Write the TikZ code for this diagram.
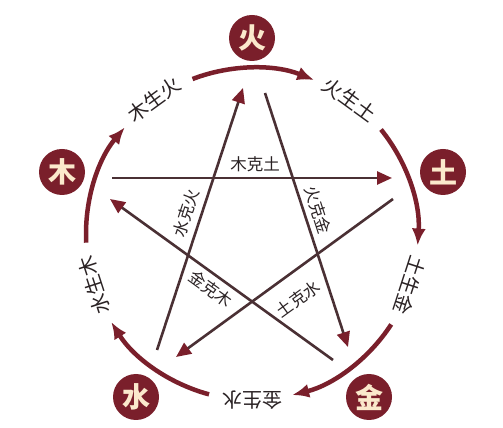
\documentclass[tikz,border=0pt]{standalone}
\usepackage{fontspec}
\newfontfamily\cjk{Noto Sans CJK SC}
\usetikzlibrary{arrows.meta}
\definecolor{wxred}{HTML}{7A1F2B}
\definecolor{wxcream}{HTML}{FBE9CC}
\definecolor{wxline}{HTML}{4A3034}
\definecolor{wxtext}{HTML}{2A2224}
\begin{document}
\begin{tikzpicture}[x=1pt,y=1pt,
  elem/.style={circle,fill=wxred,minimum size=46pt,inner sep=0pt,text=wxcream,font=\cjk\bfseries\fontsize{28}{28}\selectfont},
  shengarc/.style={draw=wxred,line width=4.5pt,-{Latex[length=17pt,width=14pt]}},
  kearrow/.style={draw=wxline,line width=2.6pt,-{Triangle[length=15pt,width=13pt,color=wxred]}},
  outlbl/.style={font=\cjk\fontsize{20}{20}\selectfont,text=wxtext,inner sep=0pt},
  inlbl/.style={font=\cjk\fontsize{16.5}{16.5}\selectfont,text=wxtext,inner sep=0pt}]
\useasboundingbox (0,0) rectangle (503,428);
\fill[white] (0,0) rectangle (503,428);
\coordinate (O) at (252,194);
% element circles
\node[elem] (huo) at (252,390) {火};
\node[elem] (mu) at (62,256) {木};
\node[elem] (tu) at (443,256) {土};
\node[elem] (shui) at (136,31) {水};
\node[elem] (jin) at (369,31) {金};
% generating arcs
\foreach \v in {90,162,18,-54,234}{
  \draw[shengarc] ([shift={(O)}]\v+21:166) arc[start angle=\v+21,end angle=\v-22,radius=166];
}
% outer labels
\node[outlbl,rotate=36] (l1) at ([shift={(O)}]126:166) {木生火};
\node[outlbl,rotate=-36] (l2) at ([shift={(O)}]54:166) {火生土};
\node[outlbl,rotate=-108] (l3) at ([shift={(O)}]-18:166) {土生金};
\node[outlbl,rotate=180] (l4) at ([shift={(O)}]-90:166) {金生水};
\node[outlbl,rotate=108] (l5) at ([shift={(O)}]198:166) {水生木};
% controlling star
\coordinate (a1) at (112,250); \coordinate (b1) at (392,250);
\coordinate (a2) at (393,229); \coordinate (b2) at (176,71);
\coordinate (a3) at (157,78);  \coordinate (b3) at (243,340);
\coordinate (a4) at (265,335); \coordinate (b4) at (348,81);
\coordinate (a5) at (333,68);  \coordinate (b5) at (110,229);
\draw[kearrow] (a1) -- (b1);
\draw[kearrow] (a2) -- (b2);
\draw[kearrow] (a3) -- (b3);
\draw[kearrow] (a4) -- (b4);
\draw[kearrow] (a5) -- (b5);
% inner labels
\node[inlbl] (k1) at (255,264) {木克土};
\node[inlbl,rotate=72] (k2) at (186,215) {水克火};
\node[inlbl,rotate=-72] (k3) at (318,218) {火克金};
\node[inlbl,rotate=-36] (k4) at (211,139) {金克木};
\node[inlbl,rotate=36] (k5) at (298,129) {土克水};
\end{tikzpicture}
\end{document}
